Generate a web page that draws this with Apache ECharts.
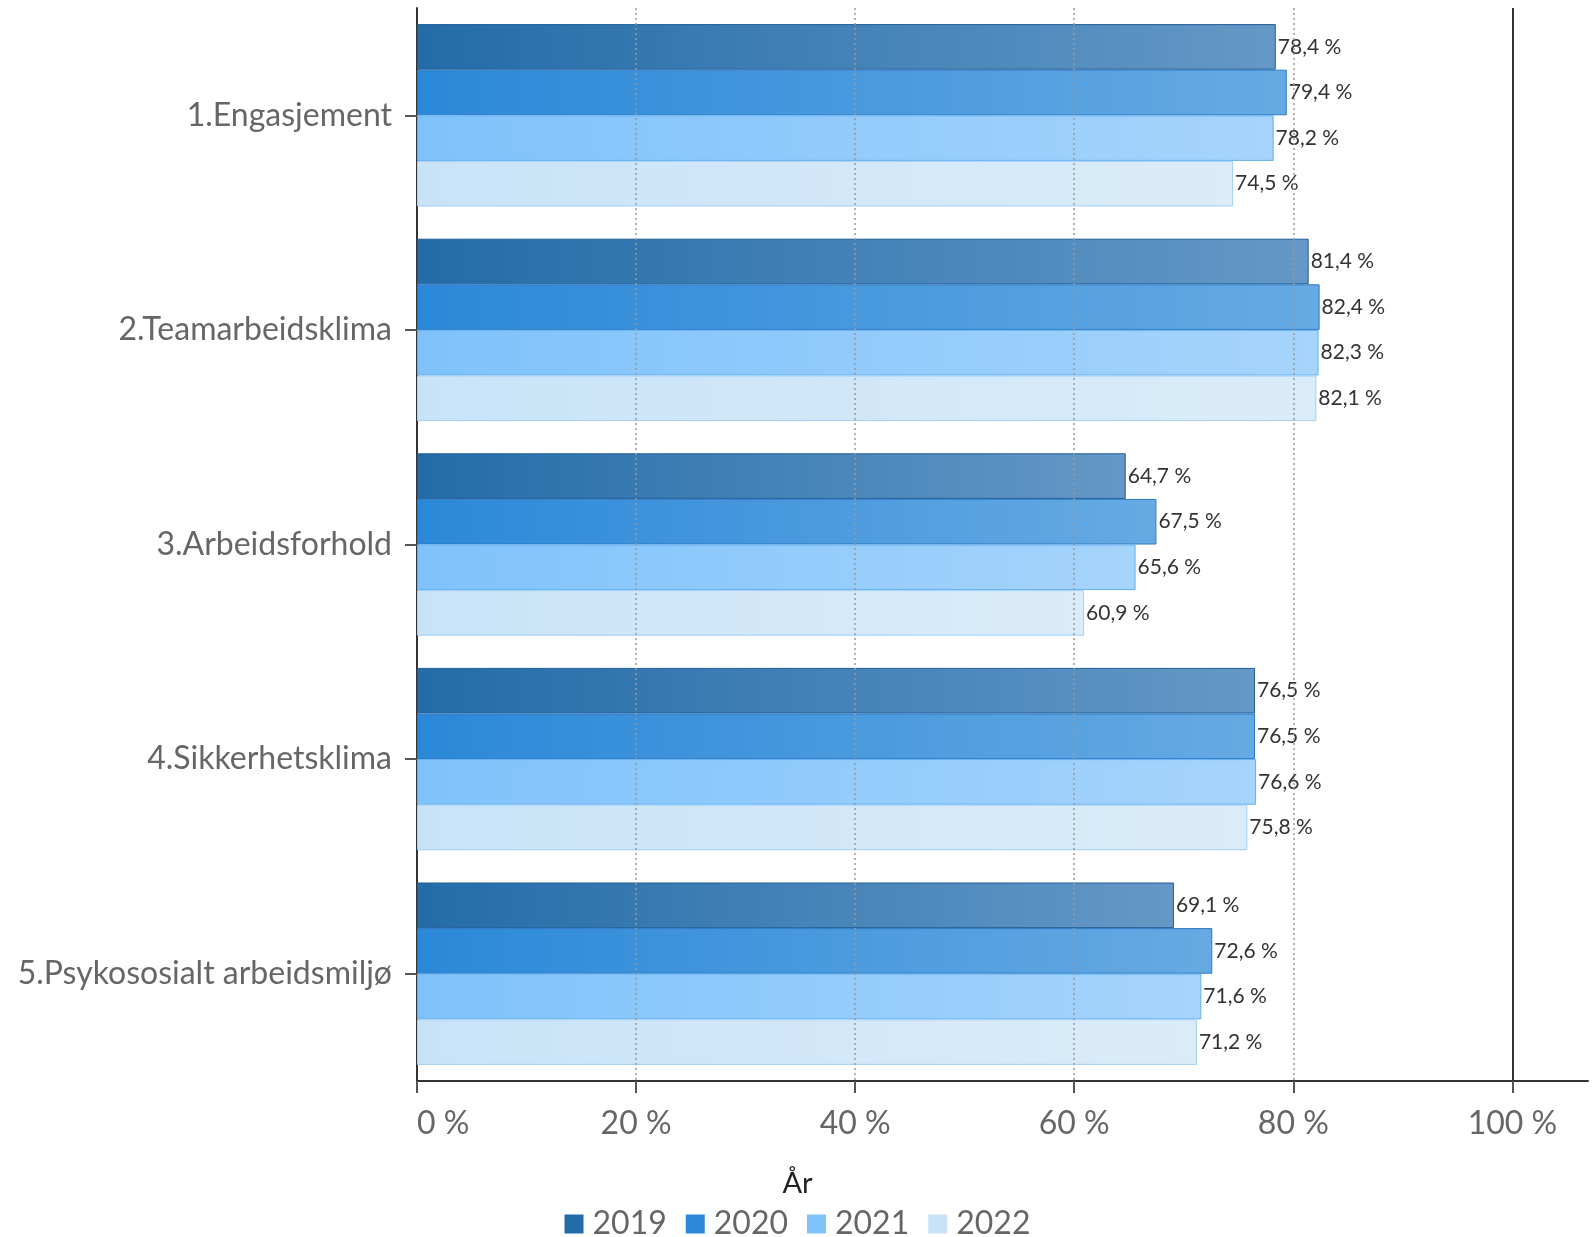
<!DOCTYPE html>
<html>
<head>
<meta charset="utf-8">
<script src="https://cdn.jsdelivr.net/npm/echarts@6/dist/echarts.min.js"></script>
<style>html,body{margin:0;padding:0;background:#fff}#c{width:1595px;height:1237px}</style>
</head>
<body>
<div id="c"></div>
<script>
var categories = ['1.Engasjement', '2.Teamarbeidsklima', '3.Arbeidsforhold', '4.Sikkerhetsklima', '5.Psykososialt arbeidsmiljø'];
var years = ['2019', '2020', '2021', '2022'];
var v2019 = [78.4, 81.4, 64.7, 76.5, 69.1];
var v2020 = [79.4, 82.4, 67.5, 76.5, 72.6];
var v2021 = [78.2, 82.3, 65.6, 76.6, 71.6];
var v2022 = [74.5, 82.1, 60.9, 75.8, 71.2];
var xTicks = [0, 20, 40, 60, 80, 100];
var gridLineValues = [20, 40, 60, 80];
var fullLineValue = 100;

var values = [v2019, v2020, v2021, v2022];
var styles = [
  {c0: '#236ca8', c1: '#6598c6', border: '#1f5e99', legend: '#236ca8'},
  {c0: '#2b88d8', c1: '#66aae3', border: '#2d78c3', legend: '#2b88d8'},
  {c0: '#7fc2fb', c1: '#a6d4fb', border: '#5eb0f4', legend: '#80c2fb'},
  {c0: '#c8e3f8', c1: '#dbecf9', border: '#a3cff3', legend: '#c8e3f8'}
];
var FONT = 'Lato, "Noto Sans", sans-serif';

var series = years.map(function (y, i) {
  return {
    name: y,
    type: 'bar',
    data: values[i],
    barWidth: 45.6,
    barGap: '0%',
    color: styles[i].legend,
    itemStyle: {
      color: new echarts.graphic.LinearGradient(0, 0, 1, 0, [
        {offset: 0, color: styles[i].c0},
        {offset: 1, color: styles[i].c1}
      ]),
      borderColor: styles[i].border,
      borderWidth: 1
    },
    label: {
      show: true,
      position: 'right',
      distance: 2,
      fontFamily: FONT,
      fontSize: 21,
      color: '#333',
      formatter: function (p) { return p.value.toFixed(1).replace('.', ',') + ' %'; }
    },
    emphasis: {disabled: true}
  };
});

var mlData = gridLineValues.map(function (v) { return {xAxis: v}; });
mlData.push({xAxis: fullLineValue, lineStyle: {type: 'solid', color: '#333', width: 2}});
series.push({
  name: 'grid',
  type: 'line',
  data: [],
  z: 20,
  silent: true,
  markLine: {
    silent: true,
    symbol: 'none',
    label: {show: false},
    lineStyle: {type: [2, 3], color: '#999', width: 1.5},
    data: mlData,
    animation: false
  }
});

var legendData = years.map(function (y, i) {
  return {name: y, itemStyle: {color: styles[i].legend, borderWidth: 0}};
});

var chart = echarts.init(document.getElementById('c'));
chart.setOption({
  animation: false,
  backgroundColor: '#fff',
  title: {
    text: 'År',
    left: 'center',
    top: 1164,
    textStyle: {fontFamily: FONT, fontSize: 29, fontWeight: 'normal', color: '#222'}
  },
  legend: {
    data: legendData,
    left: 'center',
    top: 1203,
    itemWidth: 19,
    itemHeight: 19,
    itemGap: 19,
    icon: 'rect',
    textStyle: {fontFamily: FONT, fontSize: 32, color: '#666', padding: [0, 0, 0, 4]}
  },
  grid: {left: 417, right: 7, top: 8, bottom: 156, containLabel: false},
  xAxis: {
    type: 'value',
    min: 0,
    max: 106.9,
    interval: 20,
    axisLine: {show: true, lineStyle: {color: '#333', width: 2}},
    axisTick: {show: true, length: 12, lineStyle: {color: '#555', width: 2}, customValues: xTicks},
    axisLabel: {
      customValues: xTicks,
      margin: 27,
      fontFamily: FONT,
      fontSize: 32,
      color: '#666',
      alignMinLabel: 'left',
      formatter: function (v) { return v + ' %'; }
    },
    splitLine: {show: false}
  },
  yAxis: {
    type: 'category',
    data: categories,
    inverse: true,
    axisLine: {show: true, lineStyle: {color: '#333', width: 2}},
    axisTick: {show: true, alignWithLabel: true, length: 12, lineStyle: {color: '#555', width: 2}},
    axisLabel: {margin: 25, fontFamily: FONT, fontSize: 32, color: '#666'},
    splitLine: {show: false}
  },
  series: series
});
</script>
</body>
</html>
